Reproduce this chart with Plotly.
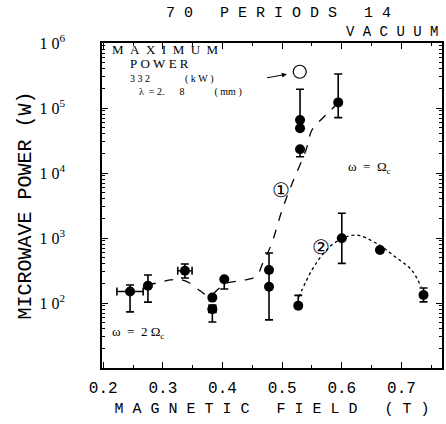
import plotly.graph_objects as go

# ---- data ----
# curve 1 (omega = 2 Omega_c) measured points
b1 = [0.245, 0.275, 0.337, 0.383, 0.383, 0.403, 0.478, 0.478, 0.530, 0.530, 0.530, 0.594]
p1 = [150, 184, 314, 121, 80, 232, 322, 178, 65300, 48800, 23200, 122000]
p1_up = [39, 85, 84, 0, 13, 0, 0, 411, 128700, 0, 0, 211000]
p1_dn = [77, 81, 71, 0, 29, 68, 0, 123, 0, 0, 5400, 51000]
b1_err = [0.022, 0, 0.012, 0, 0.006, 0, 0, 0, 0, 0, 0, 0]

# curve 2 (omega = Omega_c) measured points
b2 = [0.527, 0.600, 0.664, 0.737]
p2 = [91, 990, 653, 133]
p2_up = [40, 1410, 0, 37]
p2_dn = [0, 583, 0, 29]
b2_err = [0, 0, 0, 0.005]

# fitted guide lines
c1_x = [0.273, 0.29, 0.312, 0.328, 0.345, 0.363, 0.378, 0.395, 0.408, 0.437, 0.457,
        0.467, 0.482, 0.50, 0.517, 0.54, 0.55, 0.568, 0.582, 0.59]
c1_y = [189, 203, 226, 230, 203, 153, 128, 170, 203, 226, 260,
        400, 800, 2700, 7000, 22600, 45900, 70200, 93100, 111000]
c2_x = [0.528, 0.55, 0.57, 0.59, 0.623, 0.657, 0.69, 0.717, 0.733]
c2_y = [124, 322, 588, 867, 1110, 838, 510, 322, 176]

# predicted maximum
pm_x = [0.5295]
pm_y = [361000]

x_ticks = [0.2, 0.3, 0.4, 0.5, 0.6, 0.7]
x_text = ["0.2", "0.3", "0.4", "0.5", "0.6", "0.7"]
y_ticks = [1e2, 1e3, 1e4, 1e5, 1e6]
y_text = ["1\u00a00<sup>2</sup>", "1\u00a00<sup>3</sup>", "1\u00a00<sup>4</sup>",
          "1\u00a00<sup>5</sup>", "1\u00a00<sup>6</sup>"]

SERIF = "Liberation Serif"
MONO = "Liberation Mono"
S = "\u00a0"


def spaced(s, gap=1):
    out = []
    for w in s.split(" "):
        out.append((S * gap).join(list(w)))
    return (S * (gap + 2)).join(out)


fig = go.Figure()

fig.add_trace(go.Scatter(x=c1_x, y=c1_y, mode="lines", line=dict(color="black", width=1.3, dash="dash"),
                         line_shape="spline", showlegend=False, hoverinfo="skip"))
fig.add_trace(go.Scatter(x=c2_x, y=c2_y, mode="lines", line=dict(color="black", width=1.3, dash="dot"),
                         line_shape="spline", showlegend=False, hoverinfo="skip"))

fig.add_trace(go.Scatter(
    x=b1, y=p1, mode="markers", marker=dict(color="black", size=10),
    error_y=dict(type="data", symmetric=False, array=p1_up, arrayminus=p1_dn, color="black", thickness=1.6, width=4),
    error_x=dict(type="data", array=b1_err, color="black", thickness=1.6, width=4),
    showlegend=False))
fig.add_trace(go.Scatter(
    x=b2, y=p2, mode="markers", marker=dict(color="black", size=10),
    error_y=dict(type="data", symmetric=False, array=p2_up, arrayminus=p2_dn, color="black", thickness=1.6, width=4),
    error_x=dict(type="data", array=b2_err, color="black", thickness=1.6, width=3),
    showlegend=False))
fig.add_trace(go.Scatter(x=pm_x, y=pm_y, mode="markers",
                         marker=dict(symbol="circle-open", color="black", size=13, line=dict(width=1.2)),
                         showlegend=False))

ann = []


def txt(x, y, s, size=13, font=SERIF, xanchor="center", xref="x", yref="y"):
    # note: y on a log axis is given as log10 for annotations
    ann.append(dict(x=x, y=y, xref=xref, yref=yref, text=s, showarrow=False,
                    font=dict(family=font, size=size, color="black"),
                    xanchor=xanchor, yanchor="middle"))


txt(0.52, 1.092, spaced("70 PERIODS 14"), size=15, font=MONO, xref="paper", yref="paper")
txt(0.995, 1.034, spaced("VACUUM"), size=14, font=MONO, xanchor="right", xref="paper", yref="paper")

txt(0.2113, 5.90, spaced("MAXIMUM", 2), size=13, xanchor="left")
txt(0.2413, 5.68, spaced("POWER", 1), size=13, xanchor="left")
txt(0.241, 5.44, "3" + S + "3" + S + "2" + S * 14 + "(" + S + "k" + S + "W" + S + ")", size=10, xanchor="left")
txt(0.256, 5.25, "λ" + S * 2 + "=" + S + "2." + S * 6 + "8" + S * 12 + "(" + S + "mm" + S + ")", size=10, xanchor="left")
txt(0.498, 3.74, "①", size=20)
txt(0.565, 2.86, "②", size=20)
txt(0.607, 4.09, "ω" + S * 2 + "=" + S * 2 + "Ω<sub>c</sub>", size=13, xanchor="left")
txt(0.212, 1.54, "ω" + S * 2 + "=" + S * 2 + "2" + S + "Ω<sub>c</sub>", size=13, xanchor="left")
ann.append(dict(x=0.508, y=5.52, xref="x", yref="y", ax=0.472, ay=5.46, axref="x", ayref="y",
                showarrow=True, arrowhead=2, arrowsize=1, arrowwidth=1, arrowcolor="black", text=""))

fig.update_layout(
    width=446, height=424,
    margin=dict(l=102, r=2, t=43, b=56),
    paper_bgcolor="white", plot_bgcolor="white",
    annotations=ann,
    xaxis=dict(range=[0.198, 0.768], tickvals=x_ticks, ticktext=x_text, ticks="inside", ticklen=6,
               tickwidth=1.3, tickcolor="black", mirror="allticks", showline=True, linecolor="black",
               linewidth=1.5, showgrid=False, zeroline=False,
               minor=dict(ticks="inside", ticklen=3, tickcolor="black", dtick=0.05, tick0=0.2),
               tickfont=dict(family=MONO, size=16, color="black"), ticklabelstandoff=4,
               title=dict(text=spaced("MAGNETIC FIELD (T)"), font=dict(family=MONO, size=15, color="black"),
                          standoff=6)),
    yaxis=dict(type="log", range=[1, 6], tickvals=y_ticks, ticktext=y_text, ticks="inside", ticklen=6,
               tickwidth=1.3, tickcolor="black", mirror="allticks", showline=True, linecolor="black",
               linewidth=1.5, showgrid=False, zeroline=False,
               minor=dict(ticks="inside", ticklen=3, tickcolor="black", dtick="D1"),
               tickfont=dict(family=SERIF, size=16, color="black"), ticklabelstandoff=32,
               title=dict(text="MICROWAVE" + S + "POWER" + S + "(W)", font=dict(family=MONO, size=20, color="black"),
                          standoff=2)),
)

fig.write_html("out.html")
